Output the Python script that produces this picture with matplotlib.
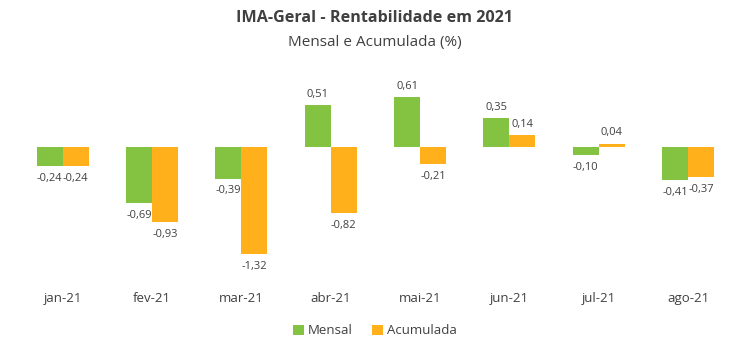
import numpy as np
import matplotlib.pyplot as plt

plt.rcParams['font.family'] = ['Open Sans', 'DejaVu Sans']

# dados do gráfico
meses = ["jan-21", "fev-21", "mar-21", "abr-21", "mai-21", "jun-21", "jul-21", "ago-21"]
mensal = [-0.24, -0.69, -0.39, 0.51, 0.61, 0.35, -0.10, -0.41]
acumulada = [-0.24, -0.93, -1.32, -0.82, -0.21, 0.14, 0.04, -0.37]

verde = "#84C242"
laranja = "#FFB01A"
cinza = "#404040"

fig = plt.figure(figsize=(7.5, 3.55), dpi=100)
ax = fig.add_axes([0.024, 0.225, 0.953, 0.606])

x = np.arange(len(meses))
w = 0.29
b1 = ax.bar(x - w / 2, mensal, w, color=verde, label="Mensal")
b2 = ax.bar(x + w / 2, acumulada, w, color=laranja, label="Acumulada")


def fmt(v):
    return f"{v:.2f}".replace(".", ",")


for bars, vals in [(b1, mensal), (b2, acumulada)]:
    for rect, v in zip(bars, vals):
        cx = rect.get_x() + rect.get_width() / 2
        if v >= 0:
            ax.annotate(fmt(v), (cx, v), xytext=(0, 4), textcoords="offset points",
                        ha="center", va="bottom", fontsize=8, color=cinza)
        else:
            ax.annotate(fmt(v), (cx, v), xytext=(0, -5), textcoords="offset points",
                        ha="center", va="top", fontsize=8, color=cinza)

ax.set_xlim(-0.5, len(meses) - 0.5)
ax.set_ylim(-1.58, 1.07)
ax.set_xticks(x)
ax.set_xticklabels(meses, fontsize=9.5, color=cinza)
ax.tick_params(axis="x", length=0, pad=12)
ax.set_yticks([])
for s in ax.spines.values():
    s.set_visible(False)

fig.text(0.5, 0.948, "IMA-Geral - Rentabilidade em 2021", ha="center", va="center",
         fontsize=11.6, fontweight="bold", color=cinza)
fig.text(0.5, 0.88, "Mensal e Acumulada (%)", ha="center", va="center",
         fontsize=11, color=cinza)

fig.legend(handles=[b1, b2], loc="center", bbox_to_anchor=(0.5, 0.068), ncol=2,
           frameon=False, fontsize=9.5, handlelength=0.8, handleheight=0.8,
           handletextpad=0.3, columnspacing=1.5, labelcolor=cinza)

fig.savefig("out.png", dpi=100)
